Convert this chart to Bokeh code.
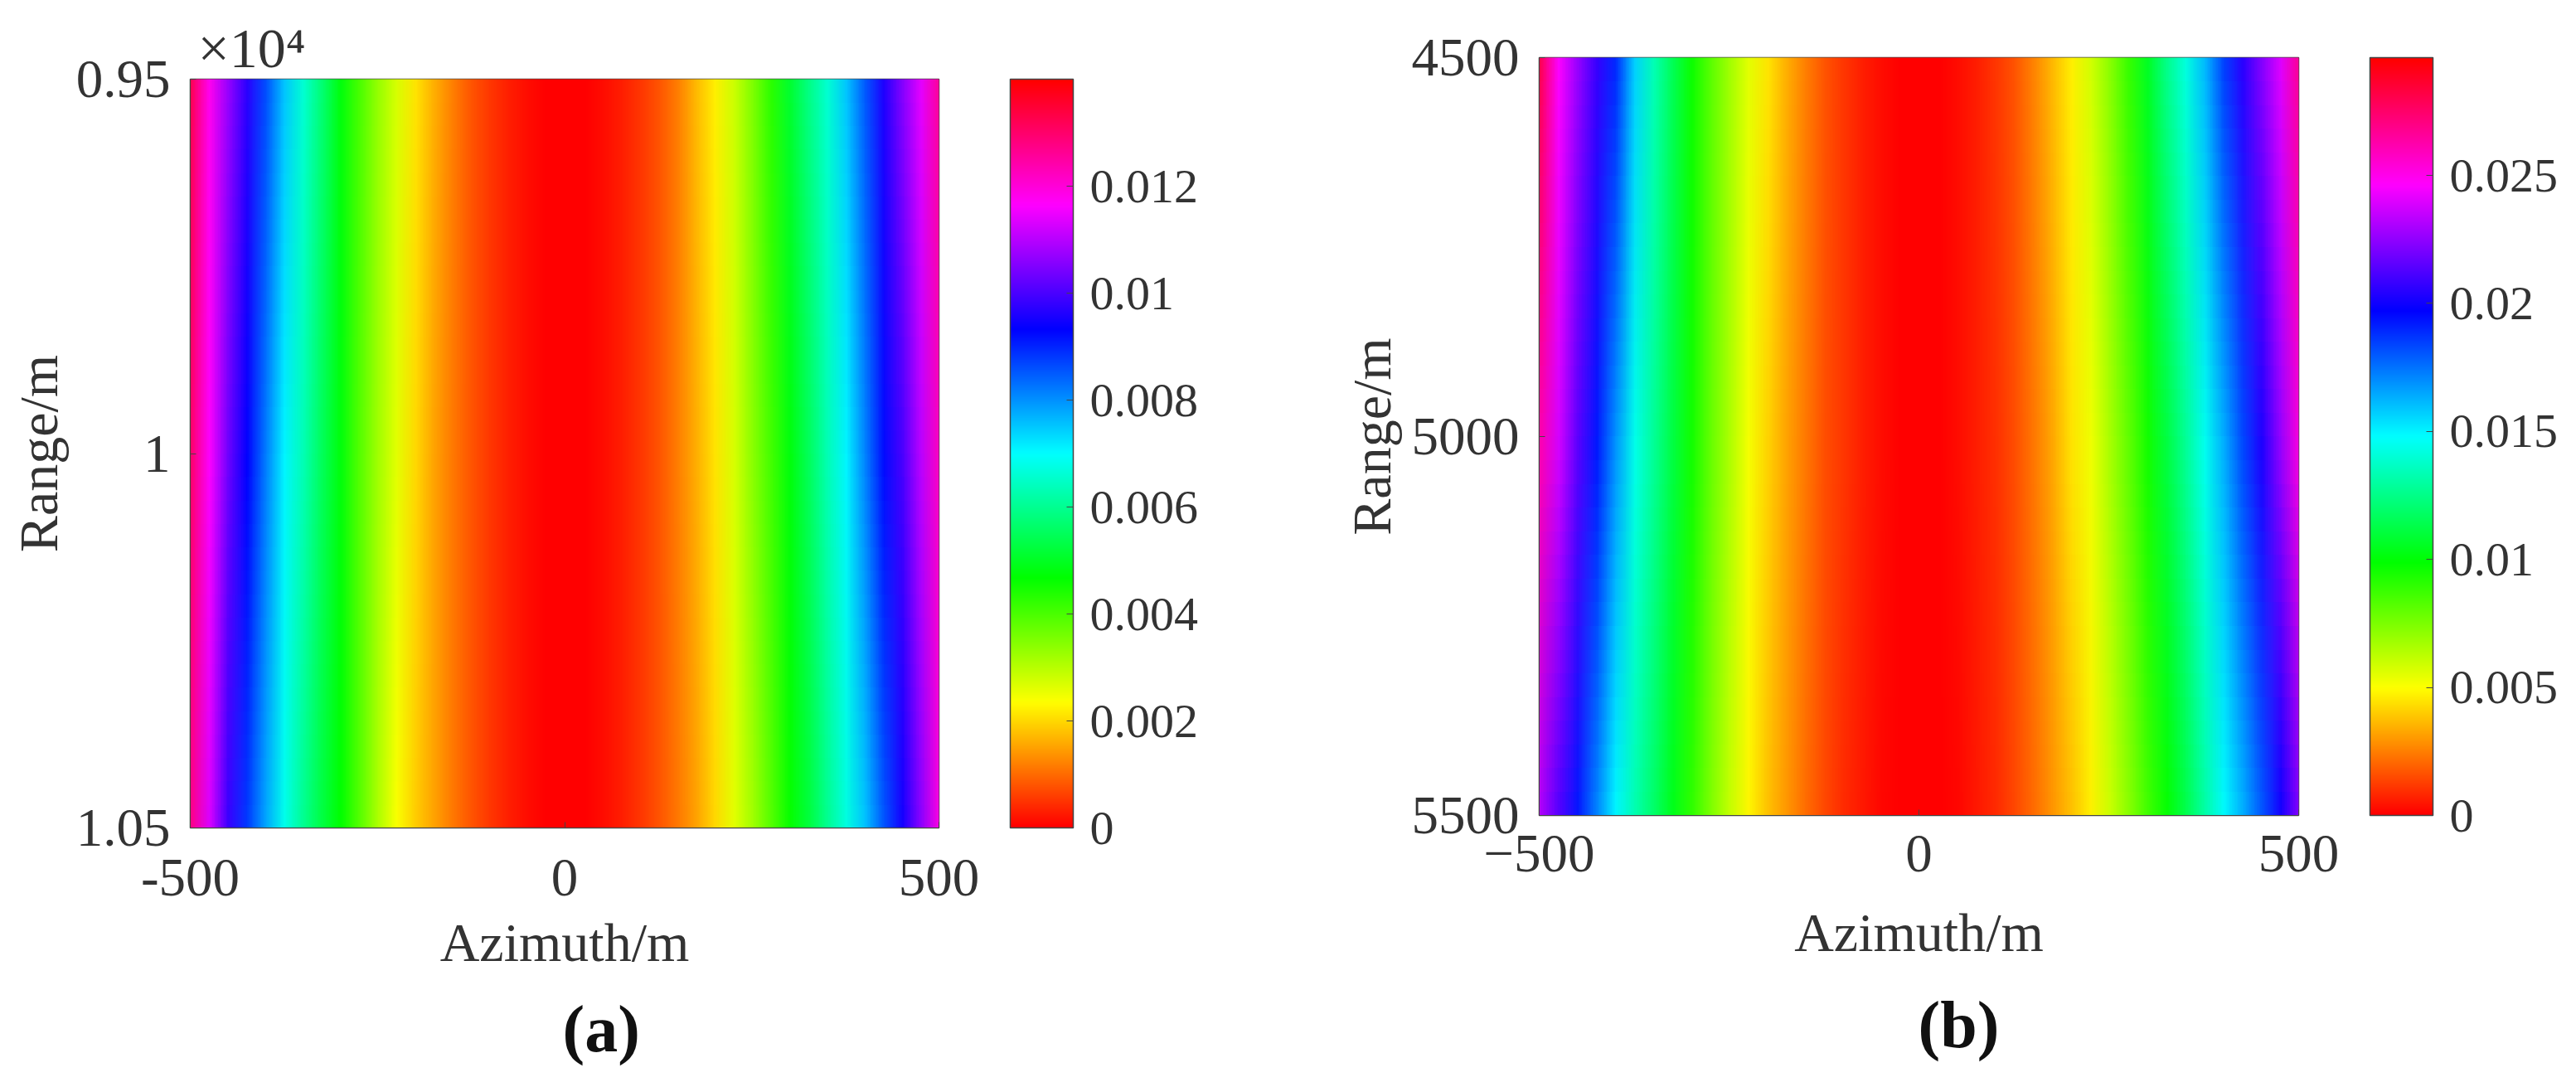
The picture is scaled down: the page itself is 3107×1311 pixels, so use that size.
from bokeh.plotting import figure
from bokeh.layouts import row
from bokeh.document import Document
from bokeh.models import ColorBar, CustomJS, FixedTicker, LinearColorMapper, Title
from bokeh.embed import file_html
from bokeh.resources import INLINE
from bokeh.colors import RGB
import numpy as np

azimuth = list(range(-500, 525, 25))
a_range = [0.95, 1.0, 1.05]
b_range = [4500, 5000, 5500]

# Values at range 0.95, 1.0, 1.05 (x 10^4 m)
a_top = [.0132,.0118,.0107,.0097,.0086,.0075,.0066,.0057,.0048,.0040,.0033,.0027,.0021,.0016,.0012,.0008,.0005,.0003,.00013,.00003,0,
         .00003,.00013,.0003,.0005,.0008,.0012,.0017,.0022,.0028,.0035,.0043,.0051,.0059,.0066,.0075,.0085,.0096,.0105,.0114,.0126]
a_mid = [.0130,.0116,.0103,.0093,.0082,.0071,.0063,.0055,.0048,.0039,.0032,.0026,.0020,.0015,.0011,.0008,.0005,.0003,.00013,.00003,0,
         .00003,.00013,.0003,.0005,.0008,.0012,.0016,.0021,.0027,.0034,.0041,.0048,.0055,.0063,.0071,.0081,.0092,.0100,.0110,.0122]
a_bot = [.0127,.0113,.0098,.0088,.0078,.0068,.0060,.0053,.0047,.0039,.0031,.0024,.0019,.0015,.0011,.0008,.0005,.0003,.00013,.00003,0,
         .00003,.00013,.0003,.0005,.0008,.0011,.0015,.0020,.0026,.0032,.0039,.0046,.0052,.0060,.0067,.0075,.0085,.0095,.0106,.0119]

# Values at range 4500, 5000, 5500 m
b_top = [.0280,.0246,.0226,.0207,.0189,.0157,.0134,.0115,.0097,.0082,.0068,.0055,.0044,.0034,.0025,.0017,.0011,.0006,.0003,.0001,0,
         .0001,.0003,.0006,.0011,.0017,.0026,.0036,.0047,.0058,.0072,.0088,.0106,.0125,.0142,.0161,.0184,.0205,.0222,.0240,.0268]
b_mid = [.0262,.0238,.0214,.0192,.0168,.0144,.0128,.0111,.0095,.0079,.0065,.0051,.0041,.0032,.0024,.0016,.0011,.0006,.0003,.0001,0,
         .0001,.0003,.0006,.0010,.0016,.0024,.0033,.0044,.0053,.0066,.0080,.0095,.0112,.0128,.0145,.0164,.0183,.0203,.0226,.0253]
b_bot = [.0231,.0212,.0192,.0170,.0148,.0132,.0118,.0104,.0090,.0075,.0061,.0048,.0038,.0029,.0021,.0014,.0009,.0005,.0002,.0001,0,
         .0001,.0002,.0005,.0009,.0014,.0021,.0029,.0038,.0047,.0059,.0072,.0086,.0098,.0113,.0130,.0147,.0163,.0180,.0199,.0222]

x_ticks = [-500, 0, 500]
a_y_labels = ["0.95", "1", "1.05"]
b_y_labels = ["4500", "5000", "5500"]
a_cb_ticks = [0, .002, .004, .006, .008, .01, .012]
a_cb_labels = ["0", "0.002", "0.004", "0.006", "0.008", "0.01", "0.012"]
b_cb_ticks = [0, .005, .01, .015, .02, .025]
b_cb_labels = ["0", "0.005", "0.01", "0.015", "0.02", "0.025"]
a_max = 0.014
b_max = 0.0296

hue_stops = [(255, 0, 0), (255, 255, 0), (0, 255, 0), (0, 255, 255), (0, 0, 255), (255, 0, 255), (255, 0, 0)]
stops = np.array(hue_stops, dtype=float)
t = np.linspace(0, 6, 256)
palette = [RGB(*[int(round(np.interp(v, range(7), stops[:, c]))) for c in range(3)]).to_hex() for v in t]

FONT = "Liberation Serif"
INK = "#333333"
mappers = []


def panel(width, height, borders, ranges, rows, vmax, y_labels, cb_ticks, cb_labels, minus,
          label_standoff, tick_standoff, x_label_standoff):
    left, right, top, bottom = borders
    xr = (azimuth[0], azimuth[-1])
    yr = (ranges[-1], ranges[0])
    p = figure(width=width, height=height, x_range=xr, y_range=yr,
               output_backend="svg", toolbar_location=None, frame_align=False,
               min_border_left=left, min_border_right=right, min_border_top=top, min_border_bottom=bottom)
    mapper = LinearColorMapper(palette=palette, low=0, high=vmax)
    mappers.append(mapper)
    grid = np.array(rows, dtype=float)
    x_step = azimuth[1] - azimuth[0]
    y_step = ranges[1] - ranges[0]
    p.image(image=[grid], x=azimuth[0] - x_step / 2, y=ranges[0] - y_step / 2,
            dw=azimuth[-1] - azimuth[0] + x_step, dh=ranges[-1] - ranges[0] + y_step, color_mapper=mapper)
    p.grid.visible = False
    p.outline_line_color = "#444444"
    p.outline_line_width = 1.5
    for ax in (p.xaxis[0], p.yaxis[0]):
        ax.major_tick_in = 7
        ax.major_tick_out = 0
        ax.minor_tick_line_color = None
        ax.major_tick_line_color = "#444444"
        ax.axis_line_color = "#444444"
        ax.major_label_text_font = FONT
        ax.major_label_text_font_size = "65px"
        ax.major_label_text_color = INK
        ax.axis_label_text_font = FONT
        ax.axis_label_text_font_size = "66px"
        ax.axis_label_text_font_style = "normal"
        ax.axis_label_text_color = INK
    p.xaxis.ticker = FixedTicker(ticks=x_ticks)
    p.xaxis.major_label_overrides = {-500: minus + "500", 0: "0", 500: "500"}
    p.yaxis.ticker = FixedTicker(ticks=ranges)
    p.yaxis.major_label_overrides = dict(zip(ranges, y_labels))
    p.xaxis.axis_label = "Azimuth/m"
    p.yaxis.axis_label = "Range/m"
    p.xaxis.major_label_standoff = tick_standoff
    p.xaxis.axis_label_standoff = x_label_standoff
    p.yaxis.major_label_standoff = 24
    p.yaxis.axis_label_standoff = label_standoff
    cb = ColorBar(color_mapper=mapper, width=76,
                  padding=0, margin=0, location=(86, 0),
                  ticker=FixedTicker(ticks=cb_ticks),
                  major_label_overrides=dict(zip(cb_ticks, cb_labels)),
                  major_label_text_font=FONT, major_label_text_font_size="58px",
                  major_label_text_color=INK, label_standoff=20,
                  major_tick_in=8, major_tick_line_color="#444444", minor_tick_line_color=None,
                  bar_line_color="#444444", bar_line_width=1.5)
    p.add_layout(cb, "right")
    return p


pa = panel(1550, 1305, (229, 418, 95, 307), a_range,
           [a_top, a_mid, a_bot], a_max, a_y_labels, a_cb_ticks, a_cb_labels, "-", 6, 38, 17)
pb = panel(1550, 1305, (306, 328, 69, 319), b_range,
           [b_top, b_mid, b_bot], b_max, b_y_labels, b_cb_ticks, b_cb_labels, "\u2212", 9, 24, 34)

pa.add_layout(Title(text="\u00d710\u2074", text_font=FONT, text_font_size="68px", text_font_style="normal",
                    text_color=INK, align="left", offset=9, standoff=0), "above")
pa.add_layout(Title(text="(a)", text_font=FONT, text_font_size="80px", text_font_style="bold",
                    text_color="#111111", align="left", offset=449, standoff=39), "below")
pb.add_layout(Title(text="(b)", text_font=FONT, text_font_size="80px", text_font_style="bold",
                    text_color="#111111", align="left", offset=457, standoff=52), "below")

# The colour field is shaded between the read cells, like the reference's continuous shading.
smooth = CustomJS(args=dict(mappers=mappers), code="""
Object.defineProperty(CanvasRenderingContext2D.prototype, 'imageSmoothingEnabled', {
  configurable: true,
  get() { return true; },
  set(v) { },
});
setTimeout(() => { for (const m of mappers) m.change.emit(); }, 50);
""")

doc = Document()
doc.add_root(row(pa, pb, spacing=0))
doc.js_on_event("document_ready", smooth)
open("out.html", "w").write(file_html(doc, INLINE))
